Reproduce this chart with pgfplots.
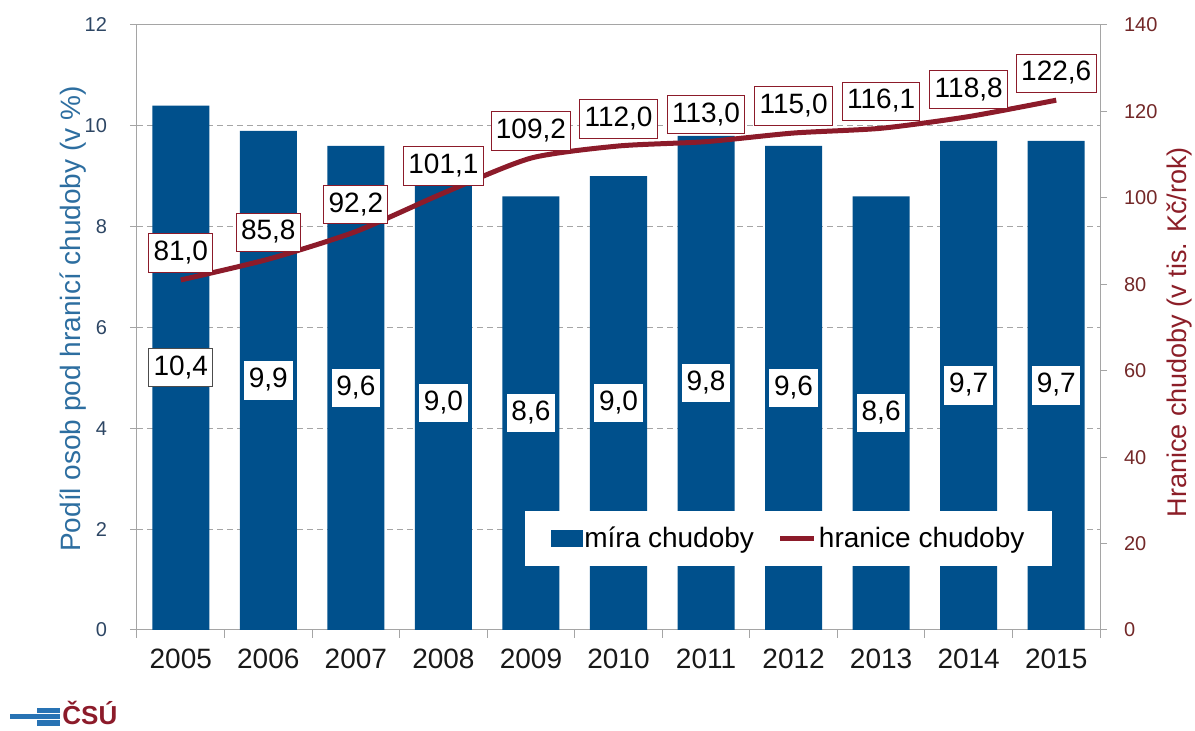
\documentclass[border=0pt]{standalone}
\usepackage{fontspec}
\setmainfont{Liberation Sans}
\usepackage{pgfplots}
\pgfplotsset{compat=1.18}
\definecolor{barBlue}{RGB}{0,80,140}
\definecolor{lineRed}{RGB}{140,27,42}
\definecolor{axGray}{RGB}{165,165,165}
\definecolor{leftTick}{RGB}{45,70,100}
\definecolor{leftLab}{RGB}{45,110,160}
\definecolor{rightTick}{RGB}{115,40,40}
\definecolor{rightLab}{RGB}{140,30,40}
\definecolor{logoBlue}{RGB}{40,115,180}
\pgfplotsset{/pgf/number format/assume math mode=true}
\begin{document}
\begin{tikzpicture}
\useasboundingbox (-68.5pt,-50.5pt) rectangle (529pt,315pt);
\begin{axis}[
  name=main, at={(0,0)}, anchor=south west,
  scale only axis, width=481.5pt, height=302.5pt,
  xmin=-0.5, xmax=10.5, ymin=0, ymax=12,
  xtick={0,...,10},
  xticklabels={2005,2006,2007,2008,2009,2010,2011,2012,2013,2014,2015},
  minor xtick={-0.5,0.5,...,10.5},
  ytick={0,2,...,12},
  xtick pos=bottom, ytick pos=left,
  tick align=outside,
  major tick length=3.5pt, minor tick length=4pt,
  major x tick style={draw=none},
  tick style={axGray, line width=0.5pt},
  axis line style={axGray, line width=0.5pt},
  ymajorgrids,
  grid style={axGray, dash pattern=on 3pt off 2pt, line width=0.5pt},
  yticklabel style={font=\fontsize{10}{12}\selectfont, text=leftTick, xshift=-8pt},
  xticklabel style={font=\fontsize{14}{16}\selectfont, text=black!90, yshift=-2.3pt},
  ylabel={Podíl osob pod hranicí chudoby (v \%)},
  every axis y label/.style={at={(axis description cs:-0.066,0.514)}, rotate=90, anchor=center, font=\fontsize{14}{16}\selectfont, text=leftLab},
]
\addplot[ybar, bar width=28.5pt, fill=barBlue, draw=none] coordinates {
  (0,10.4) (1,9.9) (2,9.6) (3,9.0) (4,8.6) (5,9.0) (6,9.8) (7,9.6) (8,8.6) (9,9.7) (10,9.7)};
\addplot[draw=none, mark=none, nodes near coords, point meta=explicit symbolic,
  nodes near coords style={anchor=center, fill=white, font=\fontsize{14}{16}\selectfont, text=black, inner xsep=2.4pt, inner ysep=2.8pt, text height=10.5pt, text depth=3pt}]
  table[meta=lab] {
x y lab
1 4.95 {9,9}
2 4.8 {9,6}
3 4.5 {9,0}
4 4.3 {8,6}
5 4.5 {9,0}
6 4.9 {9,8}
7 4.8 {9,6}
8 4.3 {8,6}
9 4.85 {9,7}
10 4.85 {9,7}
};
\addplot[draw=none, mark=none, nodes near coords, point meta=explicit symbolic,
  nodes near coords style={anchor=center, fill=white, draw=black!70, line width=0.5pt, font=\fontsize{14}{16}\selectfont, text=black, inner xsep=2.4pt, inner ysep=2.8pt, text height=10.5pt, text depth=3pt}]
  table[meta=lab] {
x y lab
0 5.2 {10,4}
};
\end{axis}
\begin{axis}[
  at={(0,0)}, anchor=south west,
  scale only axis, width=481.5pt, height=302.5pt,
  xmin=-0.5, xmax=10.5, ymin=0, ymax=140,
  axis x line=none, axis y line*=right,
  ytick={0,20,...,140},
  tick align=outside, major tick length=3.5pt,
  tick style={axGray, line width=0.5pt},
  axis line style={axGray, line width=0.5pt, -},
  yticklabel style={font=\fontsize{10}{12}\selectfont, text=rightTick, xshift=5pt},
  ylabel={Hranice chudoby (v tis. Kč/rok)},
  every axis y label/.style={at={(axis description cs:1.083,0.492)}, rotate=90, anchor=center, font=\fontsize{13.5}{15}\selectfont, text=rightLab},
  legend columns=2,
  legend style={at={(rel axis cs:0.402,0.198)}, anchor=north west, draw=none, fill=white,
    font=\fontsize{14}{16}\selectfont, inner xsep=13pt, inner ysep=6pt,
    nodes={inner xsep=1pt},
    /tikz/every even column/.append style={column sep=11pt}},
  legend cell align=left,
]
\addlegendimage{legend image code/.code={\fill[barBlue] (0pt,-4pt) rectangle (15.5pt,4pt);}}
\addlegendentry{míra chudoby}
\addplot[lineRed, line width=2.5pt, smooth, tension=0.4, mark=none,
  legend image code/.code={\draw[lineRed, line width=2.5pt] (0pt,0pt) -- (17pt,0pt);},
  nodes near coords={\pgfmathprintnumber[fixed, fixed zerofill, precision=1, use comma]{\pgfplotspointmeta}},
  nodes near coords style={anchor=center, yshift=13.5pt, fill=white, draw=lineRed, line width=0.5pt, font=\fontsize{14}{16}\selectfont, text=black, inner xsep=2.4pt, inner ysep=2.8pt, text height=10.5pt, text depth=3pt}]
  coordinates {(0,81.0) (1,85.8) (2,92.2) (3,101.1) (4,109.2) (5,112.0) (6,113.0) (7,115.0) (8,116.1) (9,118.8) (10,122.6)};
\addlegendentry{hranice chudoby}
\end{axis}
\fill[logoBlue] (-50pt,-41.5pt) rectangle (-38.5pt,-39pt);
\fill[logoBlue] (-63.5pt,-44.5pt) rectangle (-38.5pt,-42pt);
\fill[logoBlue] (-50pt,-48pt) rectangle (-38.5pt,-45pt);
\node[anchor=base west, inner sep=0pt, font=\bfseries\fontsize{13}{13}\selectfont, text=lineRed] at (-37.5pt,-47.5pt) {ČSÚ};
\end{tikzpicture}
\end{document}
